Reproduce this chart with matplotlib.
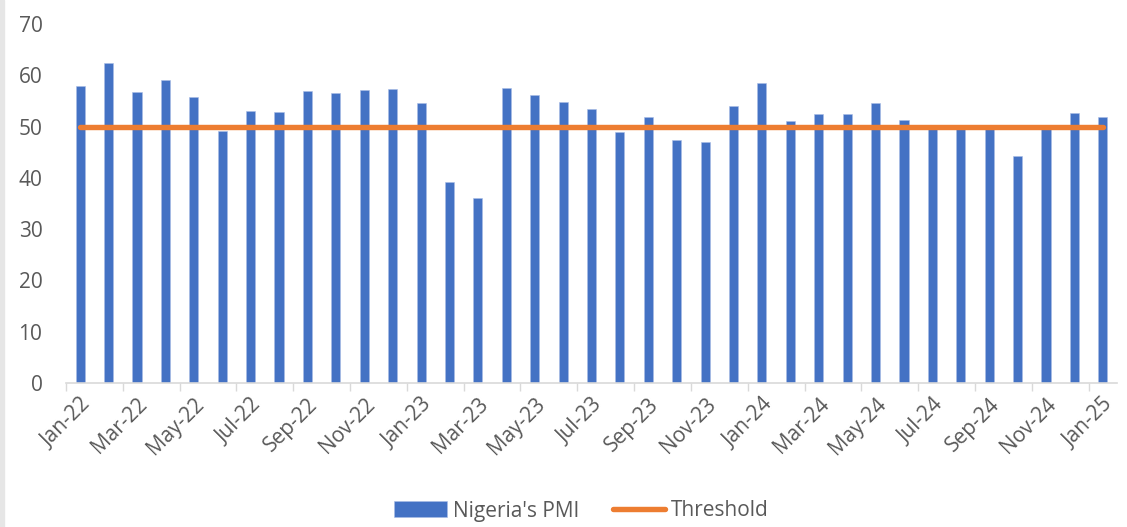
import matplotlib
matplotlib.use('Agg')
import matplotlib.pyplot as plt
import numpy as np

plt.rcParams['font.family'] = ['Open Sans', 'DejaVu Sans']

# monthly PMI, Jan-22 .. Jan-25
months = ["Jan-22", "Feb-22", "Mar-22", "Apr-22", "May-22", "Jun-22", "Jul-22", "Aug-22",
          "Sep-22", "Oct-22", "Nov-22", "Dec-22", "Jan-23", "Feb-23", "Mar-23", "Apr-23",
          "May-23", "Jun-23", "Jul-23", "Aug-23", "Sep-23", "Oct-23", "Nov-23", "Dec-23",
          "Jan-24", "Feb-24", "Mar-24", "Apr-24", "May-24", "Jun-24", "Jul-24", "Aug-24",
          "Sep-24", "Oct-24", "Nov-24", "Dec-24", "Jan-25"]
pmi = [57.9, 62.3, 56.7, 59.1, 55.8, 49.1, 53.0, 52.8, 57.0, 56.6, 57.1, 57.4,
       54.6, 39.2, 36.1, 57.6, 56.1, 54.8, 53.5, 48.9, 51.8, 47.3, 47.0, 54.1,
       58.4, 51.1, 52.4, 52.4, 54.6, 51.3, 49.7, 49.7, 49.7, 44.2, 49.7, 52.6, 51.9]
threshold = [50] * len(months)

x = np.arange(len(months))
gray = '#595959'
fs = 15

fig = plt.figure(figsize=(11.27, 5.27), dpi=100)
ax = fig.add_axes([66/1127, 144/527, 1051/1127, 359/527])

bars = ax.bar(x, pmi, width=0.32, color='#4472C4', edgecolor='#A9BDE6', linewidth=0.4,
              label="Nigeria's PMI", zorder=2)
line, = ax.plot(x, threshold, color='#ED7D31', linewidth=3.9, solid_capstyle='round',
                label='Threshold', zorder=3)

ax.set_xlim(-0.5, len(months) - 0.5)
ax.set_ylim(0, 70)
ax.set_yticks(np.arange(0, 71, 10))
ax.tick_params(axis='y', length=0, pad=17, labelsize=fs, labelcolor=gray)

# tick marks between every second pair of categories, labels on every second bar
ax.set_xticks(np.arange(-0.5, len(months) - 1, 2))
ax.set_xticklabels([])
ax.tick_params(axis='x', which='major', length=6, width=1, color='#D9D9D9')
ax.set_xticks(x[::2], minor=True)
ax.set_xticklabels(months[::2], minor=True, rotation=45, ha='right', va='top',
                   rotation_mode='anchor', fontsize=fs, color=gray)
ax.tick_params(axis='x', which='minor', length=0, pad=8)

for s in ['top', 'right', 'left']:
    ax.spines[s].set_visible(False)
ax.spines['bottom'].set_color('#D9D9D9')
ax.spines['bottom'].set_linewidth(1.2)

leg = fig.legend([bars, line], ["Nigeria's PMI", 'Threshold'], loc='center',
                 bbox_to_anchor=(0.516, 16/527), ncol=2, frameon=False,
                 fontsize=fs, handlelength=2.5, handleheight=0.8,
                 columnspacing=1.6, handletextpad=0.3)
for t in leg.get_texts():
    t.set_color(gray)

# light border strip on left edge
fig.patches.append(plt.Rectangle((0, 0), 4/1127, 1, transform=fig.transFigure,
                                 color='#E6E6E6', zorder=0))

fig.savefig('out.png', dpi=100)
